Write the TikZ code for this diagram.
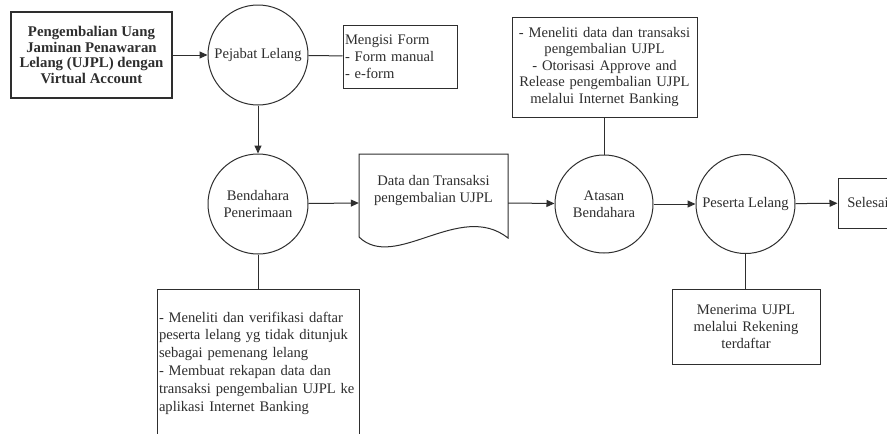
\documentclass[tikz,border=0pt]{standalone}
\usepackage{fontspec}
\setmainfont{Liberation Serif}
\usetikzlibrary{arrows.meta}
\definecolor{lc}{HTML}{2E2E2E}
\definecolor{tc}{HTML}{2E2E2E}
\tikzset{
  txt/.style={font=\fontsize{14.6}{17}\selectfont, text=tc},
  proc/.style={circle, draw=lc, line width=1pt, inner sep=0pt, minimum size=100pt, align=center, txt},
  rbox/.style={rectangle, draw=lc, line width=1pt, inner sep=2pt, txt},
  arr/.style={draw=lc, line width=1pt, -{Triangle[length=8pt,width=7pt]}},
  link/.style={draw=lc, line width=1pt},
}
\begin{document}
\begin{tikzpicture}[x=1pt,y=-1pt]
\useasboundingbox (0,0) rectangle (887,434);
\fill[white] (0,0) rectangle (887,434);
\clip (0,0) rectangle (887,434);

% start box
\node[rbox, line width=1.3pt, minimum width=161pt, minimum height=86pt, align=center,
      font=\fontsize{14.8}{15.6}\selectfont\bfseries] (start) at (91.5,55)
  {Pengembalian Uang\\Jaminan Penawaran\\Lelang (UJPL) dengan\\Virtual Account};

% circles
\node[proc] (pej) at (258,55) {Pejabat Lelang};
\node[proc] (bend) at (258,204) {Bendahara\\Penerimaan};
\node[proc, minimum size=98pt] (atas) at (604,204) {Atasan\\Bendahara};
\node[proc, minimum size=99pt] (pes) at (745.5,204) {Peserta Lelang};

% Mengisi form box
\node[rbox, minimum width=114pt, minimum height=63pt, text width=110pt, align=left] (form) at (400,56.5)
  {Mengisi Form\\- Form manual\\- e-form};

% top box for Atasan
\node[rbox, minimum width=185pt, minimum height=100pt, text width=181pt, align=center,
      font=\fontsize{14.6}{16.5}\selectfont] (atbox) at (604.5,67)
  {- Meneliti data dan transaksi\\pengembalian UJPL\\- Otorisasi Approve and\\Release pengembalian UJPL\\melalui Internet Banking};

% document shape
\node[minimum width=149pt, minimum height=100pt, inner sep=0pt] (doc) at (433.5,203) {};
\draw[lc, line width=1pt] (359,237) -- (359,154) -- (508,154) -- (508,238)
   .. controls (460,200) and (395,272) .. (359,237);
\node[txt, align=center] (doctext) at (433.5,191) {Data dan Transaksi\\pengembalian UJPL};

% bendahara note box
\node[rbox, minimum width=202pt, minimum height=148pt, text width=198pt, align=left,
      font=\fontsize{14.6}{17.8}\selectfont] (bnote) at (258,363)
  {- Meneliti dan verifikasi daftar\\peserta lelang yg tidak ditunjuk\\sebagai pemenang lelang\\- Membuat rekapan data dan\\transaksi pengembalian UJPL ke\\aplikasi Internet Banking};

% peserta note box
\node[rbox, minimum width=148pt, minimum height=75pt, text width=144pt, align=center] (pnote) at (746,326.5)
  {Menerima UJPL\\melalui Rekening\\terdaftar};

% selesai
\node[rbox, minimum width=60pt, minimum height=50pt] (sel) at (868,203) {Selesai};

% connectors
\draw[arr] (start) -- (pej);
\draw[link] (pej) -- (form);
\draw[arr] (pej) -- (bend);
\draw[arr] (bend) -- (doc.west);
\draw[arr] (doc.east) -- (atas);
\draw[link] (atas) -- (atas |- atbox.south);
\draw[arr] (atas) -- (pes);
\draw[arr] (pes) -- (sel);
\draw[link] (bend) -- (bend |- bnote.north);
\draw[link] (pes) -- (pes |- pnote.north);
\end{tikzpicture}
\end{document}
